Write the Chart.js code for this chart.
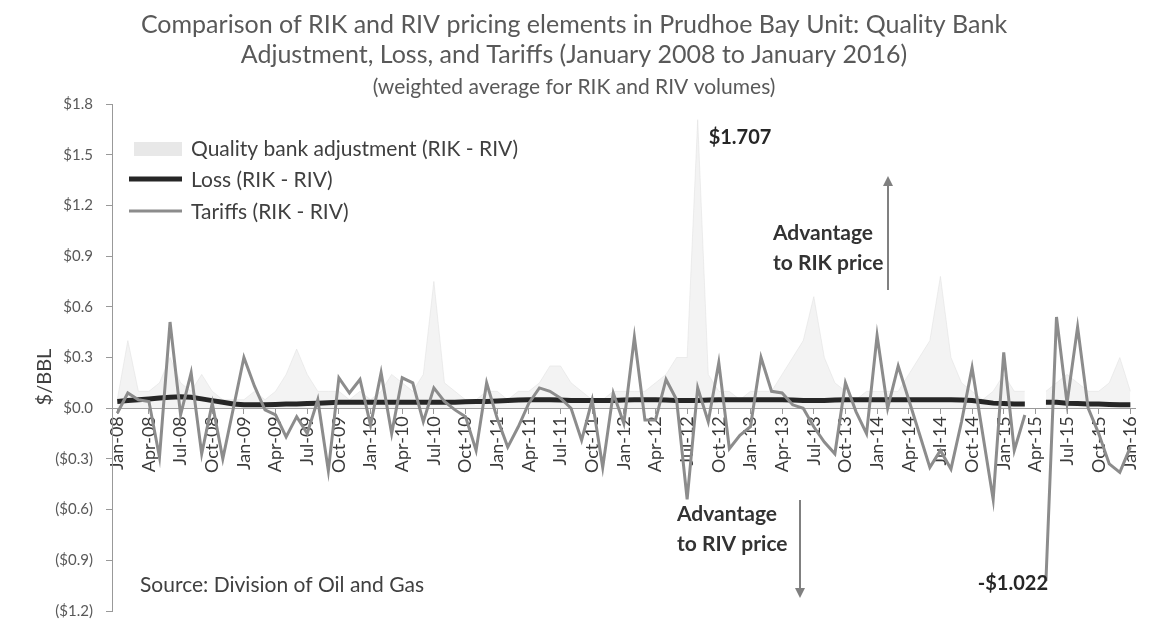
<!DOCTYPE html>
<html>
<head>
<meta charset="utf-8">
<title>RIK vs RIV pricing elements</title>
<script src="https://cdn.jsdelivr.net/npm/chart.js"></script>
<style>
  html, body { margin: 0; padding: 0; background: #fff; }
</style>
</head>
<body>
<canvas id="chart" width="1155" height="622"></canvas>
<script>
// month labels Jan-08 .. Jan-16
const monthNames = ['Jan','Feb','Mar','Apr','May','Jun','Jul','Aug','Sep','Oct','Nov','Dec'];
const years = ['08','09','10','11','12','13','14','15','16'];
const months = [];
years.forEach(yr => monthNames.forEach(m => months.push(m + '-' + yr)));
months.length = 97;

// $/BBL
const tariffs = [
  -0.03, 0.09, 0.05, 0.04, -0.29, 0.51, -0.04, 0.21, -0.27, 0.03, -0.30, 0.00,
  0.30, 0.13, -0.01, -0.04, -0.17, -0.05, -0.15, 0.05, -0.37, 0.18, 0.09, 0.17,
  -0.10, 0.21, -0.15, 0.18, 0.15, -0.08, 0.12, 0.04, -0.01, -0.05, -0.25, 0.15,
  -0.06, -0.23, -0.11, 0.03, 0.12, 0.10, 0.06, 0.00, -0.19, 0.05, -0.35, 0.09,
  -0.09, 0.42, -0.07, -0.07, 0.17, 0.05, -0.54, 0.12, -0.08, 0.27, -0.24, -0.16,
  -0.11, 0.30, 0.10, 0.09, 0.02, 0.00, -0.11, -0.20, -0.27, 0.15, -0.02, -0.15,
  0.43, 0.00, 0.25, 0.05, -0.15, -0.35, -0.25, -0.36, -0.08, 0.24, -0.15, -0.54,
  0.33, -0.25, -0.04, null, -1.022, 0.54, 0.03, 0.48, 0.00, -0.15, -0.33, -0.38,
  -0.23
];

const loss = [
  0.040, 0.045, 0.050, 0.055, 0.060, 0.065, 0.068, 0.065, 0.055, 0.045, 0.035, 0.025,
  0.020, 0.020, 0.020, 0.022, 0.025, 0.025, 0.028, 0.030, 0.032, 0.035, 0.035, 0.035,
  0.035, 0.035, 0.035, 0.035, 0.035, 0.035, 0.035, 0.035, 0.035, 0.038, 0.040, 0.040,
  0.042, 0.045, 0.048, 0.050, 0.050, 0.050, 0.048, 0.045, 0.045, 0.045, 0.045, 0.045,
  0.048, 0.050, 0.050, 0.050, 0.048, 0.045, 0.045, 0.045, 0.048, 0.050, 0.050, 0.050,
  0.050, 0.050, 0.050, 0.050, 0.048, 0.045, 0.045, 0.045, 0.048, 0.050, 0.050, 0.050,
  0.050, 0.050, 0.050, 0.050, 0.050, 0.050, 0.050, 0.050, 0.048, 0.045, 0.038, 0.030,
  0.028, 0.025, 0.025, null, 0.035, 0.035, 0.030, 0.028, 0.025, 0.025, 0.022, 0.020,
  0.020
];

const qualityBank = [
  0.05, 0.40, 0.10, 0.10, 0.15, 0.30, 0.15, 0.10, 0.20, 0.10, 0.05, 0.05,
  0.05, 0.10, 0.05, 0.10, 0.20, 0.35, 0.20, 0.10, 0.10, 0.10, 0.05, 0.10,
  0.05, 0.10, 0.20, 0.15, 0.10, 0.20, 0.75, 0.15, 0.10, 0.05, 0.05, 0.10,
  0.10, 0.05, 0.10, 0.10, 0.15, 0.25, 0.25, 0.15, 0.10, 0.05, 0.05, 0.10,
  0.10, 0.10, 0.10, 0.15, 0.20, 0.30, 0.30, 1.707, 0.20, 0.10, 0.10, 0.05,
  0.10, 0.10, 0.10, 0.20, 0.30, 0.40, 0.66, 0.30, 0.15, 0.10, 0.05, 0.10,
  0.10, 0.10, 0.10, 0.20, 0.30, 0.40, 0.78, 0.30, 0.15, 0.10, 0.05, 0.10,
  0.20, 0.10, 0.10, null, 0.10, 0.15, 0.20, 0.15, 0.10, 0.10, 0.15, 0.30,
  0.10
];

const yTicks = [1.8, 1.5, 1.2, 0.9, 0.6, 0.3, 0.0, -0.3, -0.6, -0.9, -1.2];

const FONT = 'Lato, "Open Sans", sans-serif';
const TXT = '#404040';

function money(v) {
  if (Math.abs(v) < 1e-9) return '$0.0';
  return v > 0 ? '$' + v.toFixed(1) : '($' + (-v).toFixed(1) + ')';
}

function arrow(ctx, x, y1, y2) {
  const dir = y2 < y1 ? -1 : 1;
  ctx.strokeStyle = '#808080';
  ctx.fillStyle = '#808080';
  ctx.lineWidth = 2;
  ctx.beginPath();
  ctx.moveTo(x, y1);
  ctx.lineTo(x, y2 - dir * 8);
  ctx.stroke();
  ctx.beginPath();
  ctx.moveTo(x, y2);
  ctx.lineTo(x - 5, y2 - dir * 10);
  ctx.lineTo(x + 5, y2 - dir * 10);
  ctx.closePath();
  ctx.fill();
}

// legend, notes and arrows drawn on top of the plot
const notes = {
  id: 'notes',
  afterDraw(chart) {
    const { ctx } = chart;
    ctx.save();

    // y axis title
    ctx.save();
    ctx.translate(45, 377);
    ctx.rotate(-Math.PI / 2);
    ctx.font = '20px ' + FONT;
    ctx.fillStyle = TXT;
    ctx.textAlign = 'center';
    ctx.textBaseline = 'middle';
    ctx.fillText('$/BBL', 0, 0);
    ctx.restore();

    // legend
    ctx.font = '21px ' + FONT;
    ctx.textBaseline = 'middle';
    ctx.textAlign = 'left';
    ctx.fillStyle = '#e8e8e8';
    ctx.fillRect(134, 142, 48, 14);
    ctx.lineCap = 'butt';
    ctx.strokeStyle = '#262626';
    ctx.lineWidth = 5;
    ctx.beginPath(); ctx.moveTo(129, 179); ctx.lineTo(182, 179); ctx.stroke();
    ctx.strokeStyle = '#8c8c8c';
    ctx.lineWidth = 3;
    ctx.beginPath(); ctx.moveTo(129, 211); ctx.lineTo(182, 211); ctx.stroke();
    ctx.fillStyle = TXT;
    ctx.fillText('Quality bank adjustment (RIK - RIV)', 191, 149);
    ctx.fillText('Loss (RIK - RIV)', 191, 180);
    ctx.fillText('Tariffs (RIK - RIV)', 191, 212);

    // peak labels
    const qMax = Math.max(...qualityBank.filter(v => v !== null));
    const tMin = Math.min(...tariffs.filter(v => v !== null));
    ctx.font = 'bold 20px ' + FONT;
    ctx.fillStyle = '#262626';
    ctx.textAlign = 'center';
    ctx.fillText('$' + qMax.toFixed(3), 740, 138);
    ctx.textAlign = 'right';
    ctx.fillText('-$' + Math.abs(tMin).toFixed(3), 1048, 584);

    // advantage notes
    ctx.font = 'bold 21px ' + FONT;
    ctx.textAlign = 'left';
    ctx.fillStyle = '#333';
    ctx.fillText('Advantage', 773, 233);
    ctx.fillText('to RIK price', 773, 263);
    ctx.fillText('Advantage', 677, 514);
    ctx.fillText('to RIV price', 677, 544);
    arrow(ctx, 888, 290, 176);
    arrow(ctx, 800, 500, 598);

    // source
    ctx.font = '21px ' + FONT;
    ctx.fillStyle = TXT;
    ctx.fillText('Source: Division of Oil and Gas', 140, 585);

    ctx.restore();
  }
};

new Chart(document.getElementById('chart'), {
  type: 'line',
  data: {
    labels: months,
    datasets: [
      {
        label: 'Tariffs (RIK - RIV)',
        data: tariffs,
        borderColor: '#8c8c8c',
        borderWidth: 3,
        pointRadius: 0,
        tension: 0,
        spanGaps: false,
        order: 1
      },
      {
        label: 'Loss (RIK - RIV)',
        data: loss,
        borderColor: '#262626',
        borderWidth: 5,
        pointRadius: 0,
        tension: 0,
        spanGaps: false,
        order: 2
      },
      {
        label: 'Quality bank adjustment (RIK - RIV)',
        data: qualityBank,
        borderColor: 'rgba(220,220,220,0.45)',
        backgroundColor: 'rgba(228,228,228,0.45)',
        borderWidth: 1,
        pointRadius: 0,
        tension: 0,
        fill: 'origin',
        spanGaps: false,
        order: 3
      }
    ]
  },
  options: {
    responsive: false,
    animation: false,
    layout: { padding: { left: 0, right: 7, top: 0, bottom: 11 } },
    plugins: {
      legend: { display: false },
      tooltip: { enabled: false },
      title: {
        display: true,
        text: ['Comparison of RIK and RIV pricing elements in Prudhoe Bay Unit: Quality Bank',
               'Adjustment, Loss, and Tariffs (January 2008 to January 2016)'],
        color: '#595959',
        font: { family: FONT, size: 25, weight: 'normal', lineHeight: 30 / 25 },
        padding: { top: 10, bottom: 7 }
      },
      subtitle: {
        display: true,
        text: '(weighted average for RIK and RIV volumes)',
        color: '#595959',
        font: { family: FONT, size: 21, lineHeight: 20 / 21 },
        padding: { top: 0, bottom: 7 }
      }
    },
    scales: {
      x: {
        type: 'category',
        position: { y: 0 },
        offset: true,
        border: { color: '#999', width: 1 },
        grid: {
          drawOnChartArea: false,
          drawTicks: true,
          tickLength: 5,
          color: c => (c.index % 3 === 0 ? '#999' : 'rgba(0,0,0,0)')
        },
        ticks: {
          autoSkip: false,
          minRotation: 90,
          maxRotation: 90,
          padding: 3,
          color: '#3a3a3a',
          font: { family: FONT, size: 18 },
          callback: (v, i) => (i % 3 === 0 ? months[i] : '')
        }
      },
      y: {
        min: -1.2,
        max: 1.8,
        afterBuildTicks: axis => { axis.ticks = yTicks.map(v => ({ value: v })); },
        afterFit: axis => {
          axis.width = 112;
          axis.paddingTop = 0;
          axis.paddingBottom = 0;
        },
        border: { color: '#999', width: 1 },
        grid: { drawOnChartArea: false, tickLength: 6, color: '#999' },
        ticks: {
          padding: 13,
          color: '#595959',
          font: { family: FONT, size: 15 },
          callback: v => money(v)
        }
      }
    }
  },
  plugins: [notes]
});
</script>
</body>
</html>
